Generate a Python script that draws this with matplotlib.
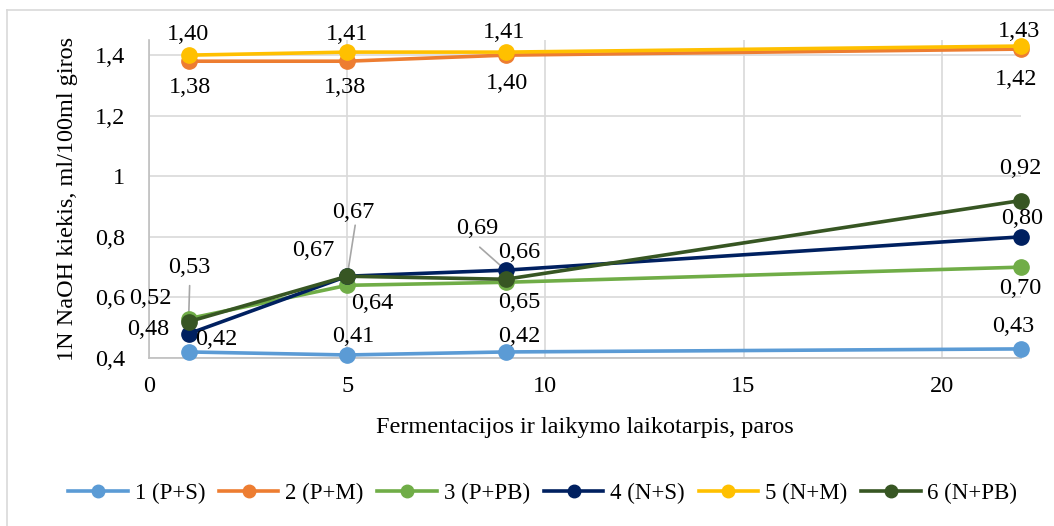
import matplotlib
matplotlib.use('Agg')
import matplotlib.pyplot as plt
from matplotlib.lines import Line2D

plt.rcParams['font.family'] = ['Liberation Serif', 'DejaVu Serif']

# --- data -------------------------------------------------------------------
days = [1, 5, 9, 22]
series_names = ['1 (P+S)', '2 (P+M)', '3 (P+PB)', '4 (N+S)', '5 (N+M)', '6 (N+PB)']
s1 = [0.42, 0.41, 0.42, 0.43]
s2 = [1.38, 1.38, 1.40, 1.42]
s3 = [0.53, 0.64, 0.65, 0.70]
s4 = [0.48, 0.67, 0.69, 0.80]
s5 = [1.40, 1.41, 1.41, 1.43]
s6 = [0.52, 0.67, 0.66, 0.92]
yticks = [0.4, 0.6, 0.8, 1.0, 1.2, 1.4]
ytick_labels = ['0,4', '0,6', '0,8', '1', '1,2', '1,4']
xticks = [0, 5, 10, 15, 20]

COLORS = ['#5B9BD5', '#ED7D31', '#70AD47', '#002060', '#FFC000', '#375623']

# label offsets (pixels, dx right / dy down) per series & point
OFFS = [
    [(28, -12), (6, -18), (14, -15), (-8, -22)],
    [(1, 26), (-2, 26), (1, 28), (-5, 30)],
    [(1, -51), (25, 18), (14, 20), (-1, 21)],
    [(-40, -4), (-34, -26), (-28, -42), (1, -18)],
    [(-1, -21), (0, -18), (-2, -20), (-2, -15)],
    [(-38, -23), (6, -64), (14, -27), (-1, -32)],
]
# leader lines: (series, point) -> start offset of line (pixels)
LEADERS = {(2, 0): (1, -33), (3, 2): (-26, -23), (5, 1): (8, -51)}

FS = 17.5


def fmt(v):
    return f'{v:.2f}'.replace('.', ',')


fig = plt.figure(figsize=(10.54, 5.26), dpi=100)
ax = fig.add_axes([149 / 1054, 1 - 358 / 526, (1021 - 149) / 1054, (358 - 40) / 526])

data = [s1, s2, s3, s4, s5, s6]
for i, ys in enumerate(data):
    ax.plot(days, ys, '-o', color=COLORS[i], lw=2.6, ms=11, zorder=3 + i,
            label=series_names[i], clip_on=False)

for i, ys in enumerate(data):
    for j, (x, y) in enumerate(zip(days, ys)):
        dx, dy = OFFS[i][j]
        ax.annotate(fmt(y), (x, y), xytext=(dx, -dy), textcoords='offset pixels',
                    ha='center', va='center', fontsize=FS, color='#000000',
                    zorder=20, annotation_clip=False)
        if (i, j) in LEADERS:
            lx, ly = LEADERS[(i, j)]
            ax.annotate('', (x, y), xytext=(lx, -ly), textcoords='offset pixels',
                        arrowprops=dict(arrowstyle='-', color='#A6A6A6', lw=1.2,
                                        shrinkA=0, shrinkB=4), zorder=2)

ax.set_xlim(0, 22)
ax.set_ylim(0.4, 1.45)
ax.set_xticks(xticks)
ax.set_yticks(yticks)
ax.set_yticklabels(ytick_labels)
ax.tick_params(axis='y', length=0, labelsize=FS, pad=17)
ax.tick_params(axis='x', length=0, labelsize=FS, pad=13)
ax.grid(True, color='#D9D9D9', lw=1.2)
ax.set_axisbelow(True)
for s in ['top', 'right']:
    ax.spines[s].set_visible(False)
for s in ['left', 'bottom']:
    ax.spines[s].set_color('#BFBFBF')
    ax.spines[s].set_linewidth(1.2)

ax.set_xlabel('Fermentacijos ir laikymo laikotarpis, paros', fontsize=FS, labelpad=14)
ax.set_ylabel('1N NaOH kiekis, ml/100ml giros', fontsize=FS, labelpad=12)

handles = [Line2D([], [], color=c, lw=2.6, marker='o', ms=9) for c in COLORS]
fig.legend(handles, series_names, loc='center', bbox_to_anchor=(0.515, 1 - 493 / 526),
           ncol=6, frameon=False, fontsize=16.5, handlelength=2.6, handletextpad=0.3,
           columnspacing=0.6)

# chart border
fig.add_artist(Line2D([7 / 1054, 7 / 1054], [0, 1 - 10 / 526], color='#D9D9D9', lw=1.2))
fig.add_artist(Line2D([7 / 1054, 1], [1 - 10 / 526, 1 - 10 / 526], color='#D9D9D9', lw=1.2))

fig.savefig('out.png', dpi=100)
